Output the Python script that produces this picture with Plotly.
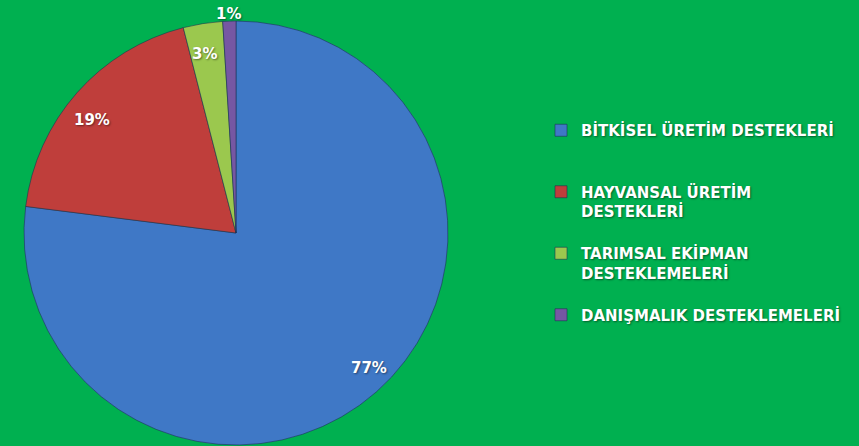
import math
import plotly.graph_objects as go

categories = ["BİTKİSEL ÜRETİM DESTEKLERİ", "HAYVANSAL ÜRETİM<br>DESTEKLERİ",
              "TARIMSAL EKİPMAN<br>DESTEKLEMELERİ", "DANIŞMALIK DESTEKLEMELERİ"]
values = [77, 19, 3, 1]
colors = ["#3F78C6", "#BF3E3B", "#9BC84E", "#7657A3"]
label_radius = [0.88, 0.84, 0.89, 1.075]

W, H = 859, 446
cx, cy, r = 236, 233, 212  # pie centre and radius in pixels
lrx, lry = 228, 204        # label placement radii (slightly oval layout)

# pad legend labels to 3 lines so items are evenly spaced
legend_labels = []
for c in categories:
    n = c.count("<br>") + 1
    legend_labels.append(c + "<br> " * (3 - n))

fig = go.Figure(go.Pie(
    labels=legend_labels,
    values=values,
    sort=False,
    direction="clockwise",
    rotation=0,
    marker=dict(colors=colors, line=dict(color="rgba(25,45,80,0.55)", width=1)),
    textinfo="none",
    hoverinfo="label+percent",
    domain=dict(x=[(cx - r) / W, (cx + r) / W], y=[(H - cy - r) / H, (H - cy + r) / H]),
))

total = sum(values)
cum = 0
annotations = []
for v, f in zip(values, label_radius):
    mid = (cum + v / 2) / total * 2 * math.pi
    cum += v
    px = cx + f * lrx * math.sin(mid)
    py = cy - f * lry * math.cos(mid)
    annotations.append(dict(
        x=px / W, y=1 - py / H, xref="paper", yref="paper",
        xanchor="center", yanchor="middle",
        text=f"{v / total:.0%}", showarrow=False,
        font=dict(family="DejaVu Sans", size=15, color="white",
                  weight="bold", shadow="1px 1px 2px rgba(0,0,0,0.45)"),
    ))

fig.update_layout(
    width=W, height=H,
    margin=dict(l=0, r=0, t=0, b=0),
    paper_bgcolor="#00B050",
    plot_bgcolor="#00B050",
    annotations=annotations,
    showlegend=True,
    legend=dict(
        x=541 / W, y=1 - 114 / H, xanchor="left", yanchor="top",
        valign="top",
        font=dict(family="DejaVu Sans", size=15, color="white", weight="bold",
                  shadow="1px 1px 2px rgba(0,0,0,0.45)"),
        bgcolor="rgba(0,0,0,0)",
    ),
)

fig.write_html(
    "out.html",
    config={"displayModeBar": False},
    post_script="document.body.style.margin='0';document.body.style.background='#00B050';",
)
